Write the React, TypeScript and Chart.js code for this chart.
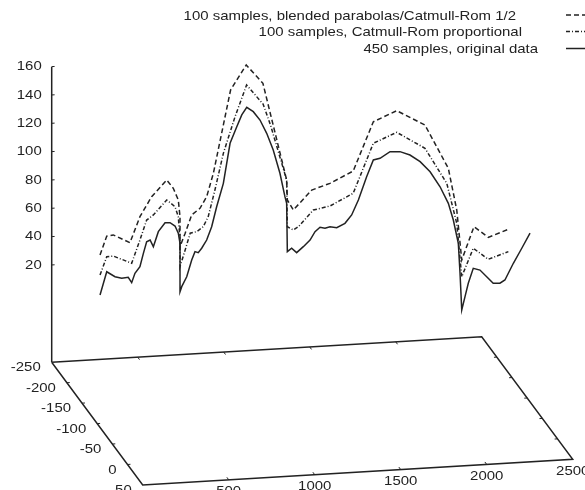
import React, { useEffect, useRef } from 'react';
import { Chart, registerables } from 'chart.js';

Chart.register(...registerables);

// ---------- data ----------
const LEGEND_LABELS = [
  '100 samples, blended parabolas/Catmull-Rom 1/2',
  '100 samples, Catmull-Rom proportional',
  '450 samples, original data',
];

const X_TICKS = [0, 500, 1000, 1500, 2000, 2500];
const Y_TICKS = [-250, -200, -150, -100, -50, 0, 50];
const Z_TICKS = [20, 40, 60, 80, 100, 120, 140, 160];

const blendedX = [281, 320, 358, 455, 513, 581, 669, 707, 736, 746, 746, 776, 814, 862, 901, 940, 1040, 1131, 1228, 1366, 1370, 1405, 1512, 1618, 1753, 1870, 2006, 2170, 2306, 2355, 2384, 2455, 2538, 2655];
const blendedZ = [27, 40.4, 41.2, 35.7, 54.1, 68.2, 80, 74.1, 65.9, 54.1, 32.9, 42.4, 55.3, 60, 68.2, 84.7, 143.5, 161.2, 148.2, 80, 65.9, 58.8, 72.9, 77.6, 86.3, 121.1, 128.9, 118.8, 88.2, 58.8, 23.5, 47, 39.5, 45.2];

const proportionalX = [281, 320, 358, 465, 513, 552, 591, 669, 717, 736, 746, 746, 776, 805, 843, 881, 910, 949, 998, 1066, 1133, 1229, 1272, 1366, 1370, 1405, 1434, 1521, 1618, 1753, 1870, 2006, 2170, 2297, 2355, 2384, 2451, 2538, 2655];
const proportionalZ = [12.9, 25.8, 26.3, 21.2, 37.6, 51.7, 55.3, 65.9, 61.1, 54.1, 37.6, 18.8, 30.6, 42.4, 43.5, 47, 54.1, 72.9, 98.8, 124.7, 147, 133.6, 118.8, 80, 47, 44.7, 47, 58.8, 61.6, 70.6, 105.9, 113.6, 102.4, 77.6, 49.4, 11.7, 31.8, 24, 29.4];

const originalX = [281, 320, 368, 407, 445, 465, 484, 513, 533, 552, 572, 591, 620, 659, 688, 717, 736, 746, 746, 756, 785, 814, 833, 852, 872, 901, 930, 959, 998, 1037, 1076, 1105, 1134, 1172, 1211, 1250, 1288, 1327, 1356, 1366, 1370, 1395, 1424, 1463, 1502, 1531, 1560, 1589, 1618, 1657, 1705, 1744, 1783, 1831, 1870, 1909, 1967, 2025, 2083, 2142, 2200, 2258, 2306, 2335, 2364, 2374, 2384, 2403, 2422, 2451, 2490, 2529, 2567, 2606, 2635, 2684, 2733, 2781];
const originalZ = [-1.2, 15.2, 11.7, 10.6, 11.3, 7.5, 14.1, 18.8, 28.2, 36.4, 37.6, 32.9, 43.5, 49.8, 49.8, 47.5, 42.4, 35.3, 1.1, 4.7, 11.7, 23.5, 29.4, 28.7, 31.8, 37.6, 47, 61.1, 77.6, 105.9, 117.6, 125.9, 131.3, 128.2, 122.3, 112.9, 101.1, 84.7, 68.2, 63.5, 29.4, 31.8, 28.7, 32.9, 37.6, 43.5, 46.6, 45.9, 47, 46.3, 49.4, 55.3, 65.9, 82.3, 94.1, 95.3, 100, 100, 97.6, 92.9, 85.8, 75.2, 63.5, 51.7, 35.3, 14.1, -11.8, -2.4, 7.1, 17.6, 16.4, 11.7, 7.1, 7.1, 9.4, 21.2, 31.8, 42.4];

// ---------- view / projection (layout, not data) ----------
const X_MIN = 0, X_MAX = 2500;
const Y_MIN = -250, Y_MAX = 50;
const Z_BASE = -48.7, Z_TOP = 160;
const KXD = 1.7636; // screen-x shift per depth unit (in x units)
const KZX = 0.007229; // vertical rise per x unit (in z units)
const KZD = 0.2885; // vertical drop per depth unit (in z units)
const VIEW_X = [-300.58, 3100.58];
const VIEW_Z = [-138.85, 207.03];

function proj(x: number, y: number, z: number) {
  const d = y - Y_MIN;
  return { x: x + d * KXD, y: z + x * KZX - d * KZD };
}

const INK = '#222222';
const FONT = '13px "Liberation Sans", Arial, sans-serif';

function txt(ctx: CanvasRenderingContext2D, s: string, x: number, y: number, align: CanvasTextAlign) {
  ctx.save();
  ctx.translate(x, y);
  ctx.scale(1.15, 1);
  ctx.textAlign = align;
  ctx.textBaseline = 'middle';
  ctx.fillText(s, 0, 0);
  ctx.restore();
}

const textPlugin = {
  id: 'gnuText',
  afterDraw(chart: any) {
    const ctx: CanvasRenderingContext2D = chart.ctx;
    const sx = chart.scales.x, sy = chart.scales.y;
    const px = (p: { x: number; y: number }) => [sx.getPixelForValue(p.x), sy.getPixelForValue(p.y)];
    ctx.save();
    ctx.fillStyle = INK;
    ctx.font = FONT;
    // z labels
    Z_TICKS.forEach((z) => {
      const [x, y] = px(proj(0, Y_MIN, z));
      txt(ctx, String(z), x - 10, y, 'right');
    });
    // depth labels
    Y_TICKS.forEach((v) => {
      const [x, y] = px(proj(X_MIN, v, Z_BASE));
      txt(ctx, String(v), x - 11, y + 5.5, 'right');
    });
    // x labels
    X_TICKS.forEach((v) => {
      const [x, y] = px(proj(v, Y_MAX, Z_BASE));
      txt(ctx, String(v), x, y + 12, 'center');
    });
    // legend
    const ends = [516, 522, 538];
    const ys = [16, 32.5, 49.5];
    const dashes = [[5, 3], [4, 2, 1, 2], []];
    LEGEND_LABELS.forEach((l, i) => {
      txt(ctx, l, ends[i], ys[i], 'right');
      ctx.beginPath();
      ctx.setLineDash(dashes[i]);
      ctx.strokeStyle = INK;
      ctx.lineWidth = 1.5;
      ctx.moveTo(566, ys[i] - 1);
      ctx.lineTo(592, ys[i] - 1);
      ctx.stroke();
    });
    ctx.restore();
  },
};

function buildFrame() {
  const pts = [
    proj(X_MIN, Y_MIN, Z_BASE),
    proj(X_MAX, Y_MIN, Z_BASE),
    proj(X_MAX, Y_MAX, Z_BASE),
    proj(X_MIN, Y_MAX, Z_BASE),
    proj(X_MIN, Y_MIN, Z_BASE),
  ];
  return pts;
}

function buildTicks() {
  const out: any[] = [];
  const gap = { x: 0, y: null };
  const seg = (a: any, b: any) => { out.push(a, b, gap); };
  X_TICKS.slice(1, -1).forEach((v) => {
    seg(proj(v, Y_MAX, Z_BASE), proj(v, Y_MAX - 6, Z_BASE));
    seg(proj(v, Y_MIN, Z_BASE), proj(v, Y_MIN + 6, Z_BASE));
  });
  Y_TICKS.slice(1, -1).forEach((v) => {
    seg(proj(X_MIN, v, Z_BASE), proj(X_MIN + 17, v, Z_BASE));
    seg(proj(X_MAX, v, Z_BASE), proj(X_MAX - 17, v, Z_BASE));
  });
  Z_TICKS.forEach((z) => {
    seg(proj(X_MIN, Y_MIN, z), proj(X_MIN + 17, Y_MIN, z));
  });
  return out;
}

const zip = (xs: number[], zs: number[]) => xs.map((x, i) => ({ x, y: zs[i] }));

export default function App() {
  const ref = useRef<HTMLCanvasElement | null>(null);
  useEffect(() => {
    if (!ref.current) return;
    const line = (data: any[], dash: number[], width = 1.5) => ({
      data,
      showLine: true,
      borderColor: INK,
      borderWidth: width,
      borderDash: dash,
      pointRadius: 0,
      tension: 0,
      spanGaps: false,
      fill: false,
    });
    const chart = new Chart(ref.current, {
      type: 'scatter',
      data: {
        datasets: [
          line(buildFrame(), [], 1.5),
          line([proj(X_MIN, Y_MIN, Z_BASE), proj(X_MIN, Y_MIN, Z_TOP)], [], 1.5),
          line(buildTicks(), [], 1),
          line(zip(blendedX, blendedZ), [5, 3]),
          line(zip(proportionalX, proportionalZ), [4, 2, 1, 2]),
          line(zip(originalX, originalZ), []),
        ] as any,
      },
      options: {
        animation: false,
        responsive: false,
        devicePixelRatio: 1,
        layout: { padding: 0 },
        plugins: { legend: { display: false }, tooltip: { enabled: false } },
        scales: {
          x: { type: 'linear', display: false, min: VIEW_X[0], max: VIEW_X[1] },
          y: { type: 'linear', display: false, min: VIEW_Z[0], max: VIEW_Z[1] },
        },
      } as any,
      plugins: [textPlugin],
    });
    return () => chart.destroy();
  }, []);
  return (
    <div style={{ position: 'fixed', left: 0, top: 0, width: 585, height: 490, background: '#fff' }}>
      <canvas ref={ref} width={585} height={490} />
    </div>
  );
}
